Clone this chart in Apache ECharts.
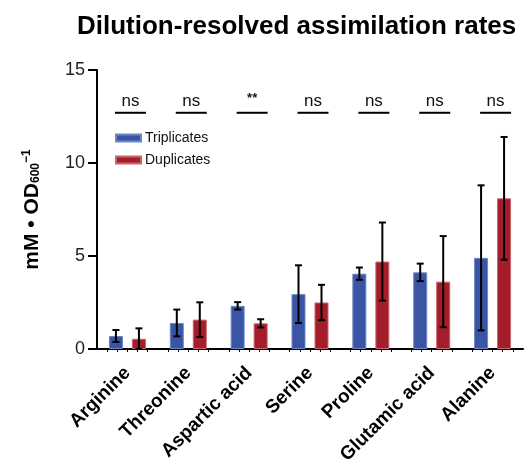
<!DOCTYPE html>
<html>
<head>
<meta charset="utf-8">
<script src="https://cdn.jsdelivr.net/npm/echarts@6/dist/echarts.min.js"></script>
<style>
  html, body { margin: 0; padding: 0; background: #fff; }
  #chart { width: 532px; height: 474px; }
</style>
</head>
<body>
<div id="chart"></div>
<script>
// Amino acids and their assimilation rates (mean ± SD)
const categories = ['Arginine', 'Threonine', 'Aspartic acid', 'Serine', 'Proline', 'Glutamic acid', 'Alanine'];
const triplicateMean = [0.70, 1.40, 2.32, 2.95, 4.05, 4.12, 4.90];
const triplicateSD   = [0.32, 0.72, 0.20, 1.55, 0.33, 0.47, 3.90];
const duplicateMean  = [0.55, 1.58, 1.38, 2.50, 4.70, 3.62, 8.10];
const duplicateSD    = [0.56, 0.93, 0.22, 0.95, 2.10, 2.45, 3.30];
const significance   = ['ns', 'ns', '**', 'ns', 'ns', 'ns', 'ns'];
const yTicks = [0, 5, 10, 15];

const BLUE = '#3a55a5';
const RED = '#a31d2b';
const BAR_W = 14;
const BAR_GAP = 9;
const SIG_Y = 12.7;
const SANS = '"Liberation Sans", Arial, sans-serif';

const chart = echarts.init(document.getElementById('chart'), null, { renderer: 'canvas' });

// Error bar drawn around the bar of a given series (side = -1 left, +1 right)
function errorBarRenderer(means, sds, side) {
  return function (params, api) {
    const i = api.value(0);
    const m = means[i], s = sds[i];
    const shift = side * (BAR_W + BAR_GAP) / 2;
    const top = api.coord([i, m + s]);
    const bot = api.coord([i, Math.max(m - s, 0)]);
    const x = top[0] + shift;
    const cap = 3.5;
    const style = { stroke: '#000', lineWidth: 2 };
    return {
      type: 'group',
      children: [
        { type: 'line', shape: { x1: x, y1: top[1], x2: x, y2: bot[1] }, style },
        { type: 'line', shape: { x1: x - cap, y1: top[1], x2: x + cap, y2: top[1] }, style },
        { type: 'line', shape: { x1: x - cap, y1: bot[1], x2: x + cap, y2: bot[1] }, style }
      ]
    };
  };
}

// Significance markers above each pair
function sigRenderer(params, api) {
  const i = api.value(0);
  const p = api.coord([i, SIG_Y]);
  const x = p[0] + 3;
  const label = significance[i];
  const isStar = label.indexOf('*') >= 0;
  return {
    type: 'group',
    children: [
      { type: 'line', shape: { x1: x - 15.5, y1: p[1], x2: x + 15.5, y2: p[1] },
        style: { stroke: '#000', lineWidth: 2 } },
      { type: 'text', x: x, y: p[1] - (isStar ? 8 : 3),
        style: { text: label, fill: '#111',
                 font: isStar ? ('bold 13px ' + SANS) : ('17px ' + SANS),
                 textAlign: 'center', textVerticalAlign: 'bottom' } }
    ]
  };
}

const idx = categories.map((c, i) => i);

chart.setOption({
  animation: false,
  title: {
    text: 'Dilution-resolved assimilation rates',
    left: 72, top: 9,
    textStyle: { fontFamily: SANS, fontWeight: 'bold', fontSize: 26, color: '#000' }
  },
  legend: {
    orient: 'vertical',
    left: 110, top: 126,
    itemWidth: 25, itemHeight: 7, itemGap: 8,
    icon: 'rect',
    data: ['Triplicates', 'Duplicates'],
    textStyle: { fontFamily: SANS, fontSize: 14, color: '#111', padding: [0, 0, 0, -1] }
  },
  grid: { left: 97, right: 9, top: 70, bottom: 125, containLabel: false },
  xAxis: [{
    type: 'category',
    data: categories,
    axisLine: { lineStyle: { color: '#000', width: 2 } },
    axisTick: { alignWithLabel: true, length: 10, lineStyle: { color: '#000', width: 2 } },
    axisLabel: {
      rotate: 45, interval: 0, margin: 21,
      fontFamily: SANS, fontWeight: 'bold', fontSize: 19, color: '#000'
    }
  }, {
    // carries the small minor ticks along the baseline
    type: 'value', min: 0, max: 7, interval: 1,
    position: 'bottom',
    axisLine: { show: false },
    axisTick: { show: false },
    axisLabel: { show: false },
    splitLine: { show: false },
    minorTick: { show: true, splitNumber: 6, length: 3, lineStyle: { color: '#000', width: 1 } }
  }],
  yAxis: {
    type: 'value',
    min: yTicks[0], max: yTicks[yTicks.length - 1], interval: 5,
    name: '{m|mM • OD}{sub|600}{sup|−1}',
    nameLocation: 'middle', nameRotate: 90, nameGap: 52,
    nameTextStyle: {
      rich: {
        m: { fontFamily: SANS, fontWeight: 'bold', fontSize: 21, color: '#000', lineHeight: 26, verticalAlign: 'middle' },
        sub: { fontFamily: SANS, fontWeight: 'bold', fontSize: 12, color: '#000', lineHeight: 26, verticalAlign: 'bottom', padding: [0, 0, 3, 0] },
        sup: { fontFamily: SANS, fontWeight: 'bold', fontSize: 12, color: '#000', lineHeight: 26, verticalAlign: 'top', padding: [2, 0, 0, 0] }
      }
    },
    axisLine: { show: true, lineStyle: { color: '#000', width: 2 } },
    axisTick: { show: true, length: 9, lineStyle: { color: '#000', width: 2 } },
    axisLabel: { margin: 12, fontFamily: SANS, fontSize: 18, color: '#222' },
    splitLine: { show: false }
  },
  series: [
    {
      name: 'Triplicates', type: 'bar', data: triplicateMean,
      barWidth: BAR_W, barGap: (BAR_GAP / BAR_W * 100) + '%',
      itemStyle: { color: BLUE, borderColor: '#6f86c6', borderWidth: 1 }
    },
    {
      name: 'Duplicates', type: 'bar', data: duplicateMean,
      barWidth: BAR_W,
      itemStyle: { color: RED, borderColor: '#c9646e', borderWidth: 1 }
    },
    { type: 'custom', renderItem: errorBarRenderer(triplicateMean, triplicateSD, -1), data: idx, z: 5 },
    { type: 'custom', renderItem: errorBarRenderer(duplicateMean, duplicateSD, 1), data: idx, z: 5 },
    { type: 'custom', renderItem: sigRenderer, data: idx, z: 5 }
  ]
});
</script>
</body>
</html>
